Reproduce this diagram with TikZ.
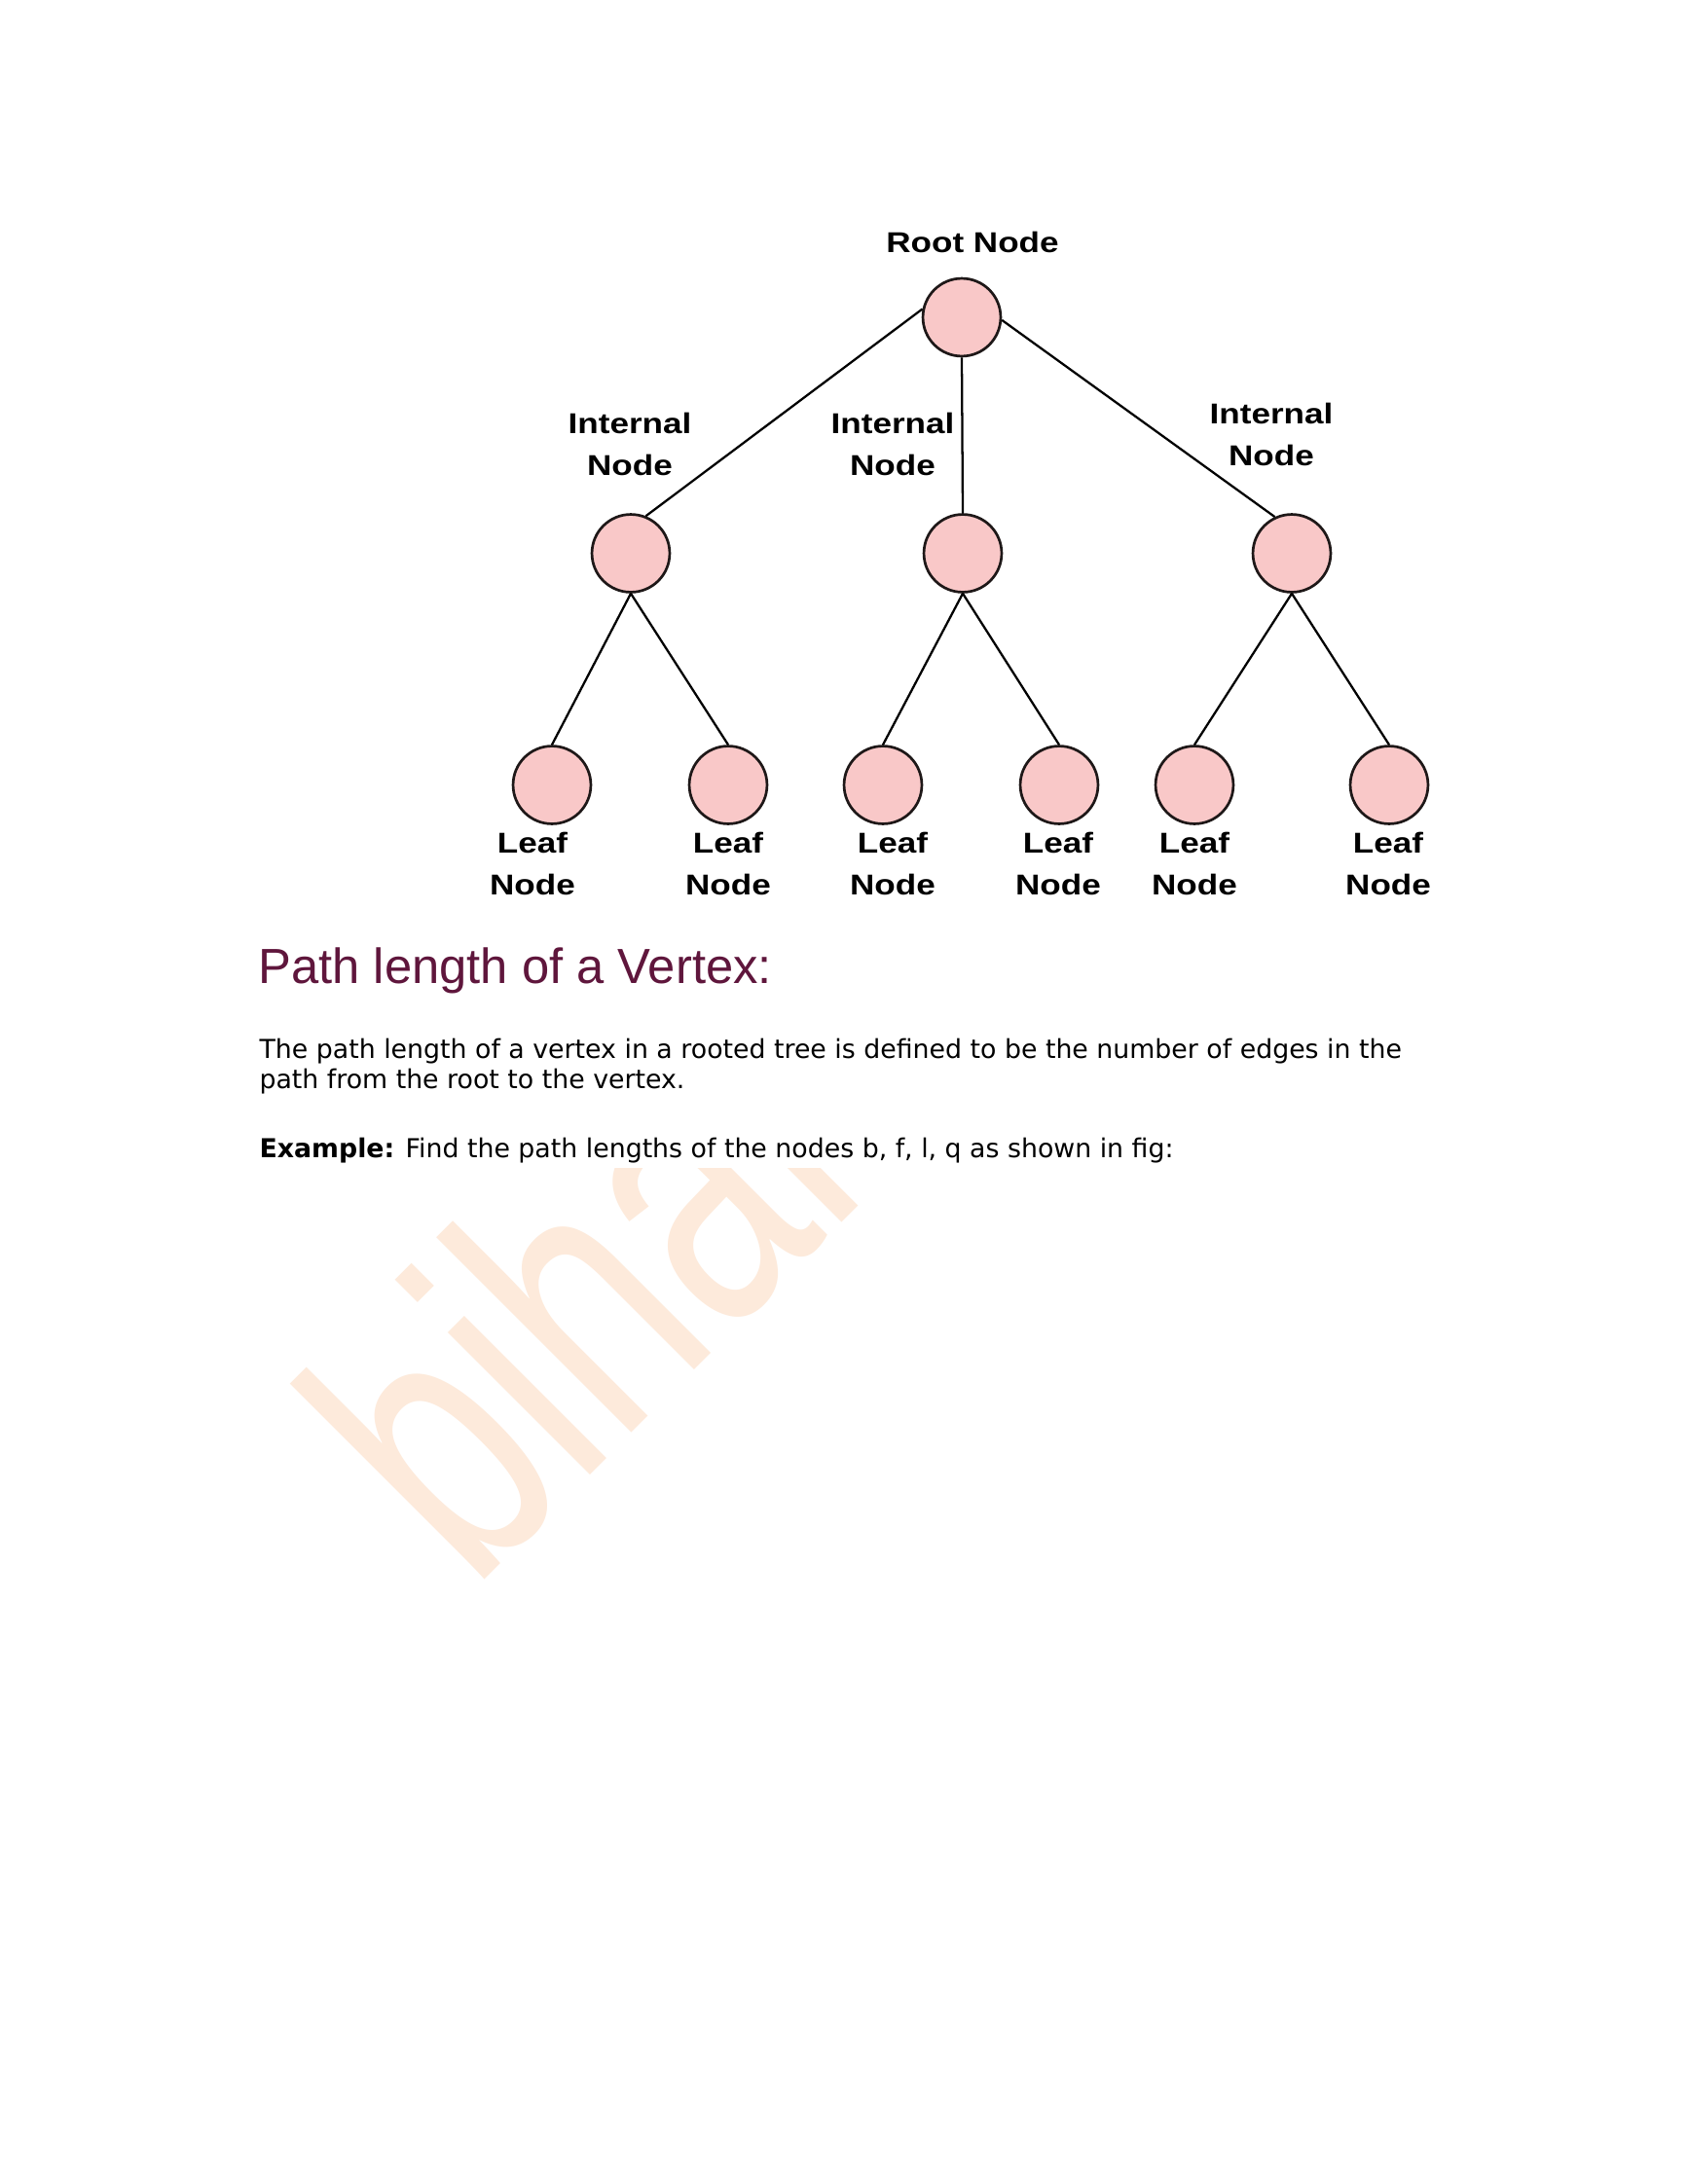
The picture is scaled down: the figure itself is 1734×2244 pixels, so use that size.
\documentclass[tikz,border=0pt]{standalone}
\usepackage{fontspec}
\setmainfont{DejaVu Sans}
\newfontfamily\labelfont[FakeStretch=1.19]{Liberation Sans}
\newfontfamily\headfont{Liberation Sans}
\newfontfamily\wmfont[FakeStretch=0.70]{Liberation Sans}
\definecolor{nodepink}{RGB}{249,200,200}
\definecolor{nodeline}{RGB}{30,24,24}
\definecolor{headmaroon}{RGB}{95,22,60}
\definecolor{wmpeach}{RGB}{253,234,219}
\begin{document}
\begin{tikzpicture}[x=0.35294pt,y=-0.35294pt,
  vtx/.style={circle, draw=nodeline, line width=0.95pt, fill=nodepink, minimum size=28.2pt, inner sep=0pt},
  lbl/.style={font=\labelfont\bfseries\fontsize{10.4}{15}\selectfont, align=center, inner sep=0pt, anchor=north},
  edge/.style={line width=0.8pt, draw=black},
  plain/.style={inner sep=0pt, font=\fontsize{9.45}{10.95}\selectfont}]
\useasboundingbox (0,0) rectangle (1734,2244);
\fill[white] (0,0) rectangle (1734,2244);
% watermark
\node[anchor=base west, rotate=45, inner sep=0pt, text=wmpeach, font=\wmfont\fontsize{138}{140}\selectfont] (wm) at (485,1636) {bihar};
\fill[white] (255,963) rectangle (1460,1200);
% vertices
\node[vtx] (root) at (988,326) {};
\node[vtx] (i1) at (648,568.5) {};
\node[vtx] (i2) at (989,568.5) {};
\node[vtx] (i3) at (1327,568.5) {};
\node[vtx] (l1) at (567,806.5) {};
\node[vtx] (l2) at (748,806.5) {};
\node[vtx] (l3) at (907,806.5) {};
\node[vtx] (l4) at (1088,806.5) {};
\node[vtx] (l5) at (1227,806.5) {};
\node[vtx] (l6) at (1427,806.5) {};
% edges
\draw[edge] (root.168) -- (i1.68);
\draw[edge] (root.south) -- (i2.north);
\draw[edge] (root.-4) -- (i3.115);
\draw[edge] (i1.south) -- (l1.north);
\draw[edge] (i1.south) -- (l2.north);
\draw[edge] (i2.south) -- (l3.north);
\draw[edge] (i2.south) -- (l4.north);
\draw[edge] (i3.south) -- (l5.north);
\draw[edge] (i3.south) -- (l6.north);
% labels
\node[lbl] (rootlbl) at (999,238) {Root Node};
\node[lbl] (int1) at (647,424) {Internal\\Node};
\node[lbl] (int2) at (917,424) {Internal\\Node};
\node[lbl] (int3) at (1306,414) {Internal\\Node};
\node[lbl] (leaf1) at (547,855) {Leaf\\Node};
\node[lbl] (leaf2) at (748,855) {Leaf\\Node};
\node[lbl] (leaf3) at (917,855) {Leaf\\Node};
\node[lbl] (leaf4) at (1087,855) {Leaf\\Node};
\node[lbl] (leaf5) at (1227,855) {Leaf\\Node};
\node[lbl] (leaf6) at (1426,855) {Leaf\\Node};
% text
\node[anchor=base west, inner sep=0pt, text=headmaroon, font=\headfont\fontsize{17.9}{20}\selectfont] (head) at (265,1010) {Path length of a Vertex:};
\node[plain, anchor=north west, align=left] (body) at (266,1066.7) {The path length of a vertex in a rooted tree is defined to be the number of edges in the\\path from the root to the vertex.};
\node[plain, anchor=base west] (ex) at (266,1189) {\textbf{Example:} Find the path lengths of the nodes b, f, l, q as shown in fig:};
\end{tikzpicture}
\end{document}
